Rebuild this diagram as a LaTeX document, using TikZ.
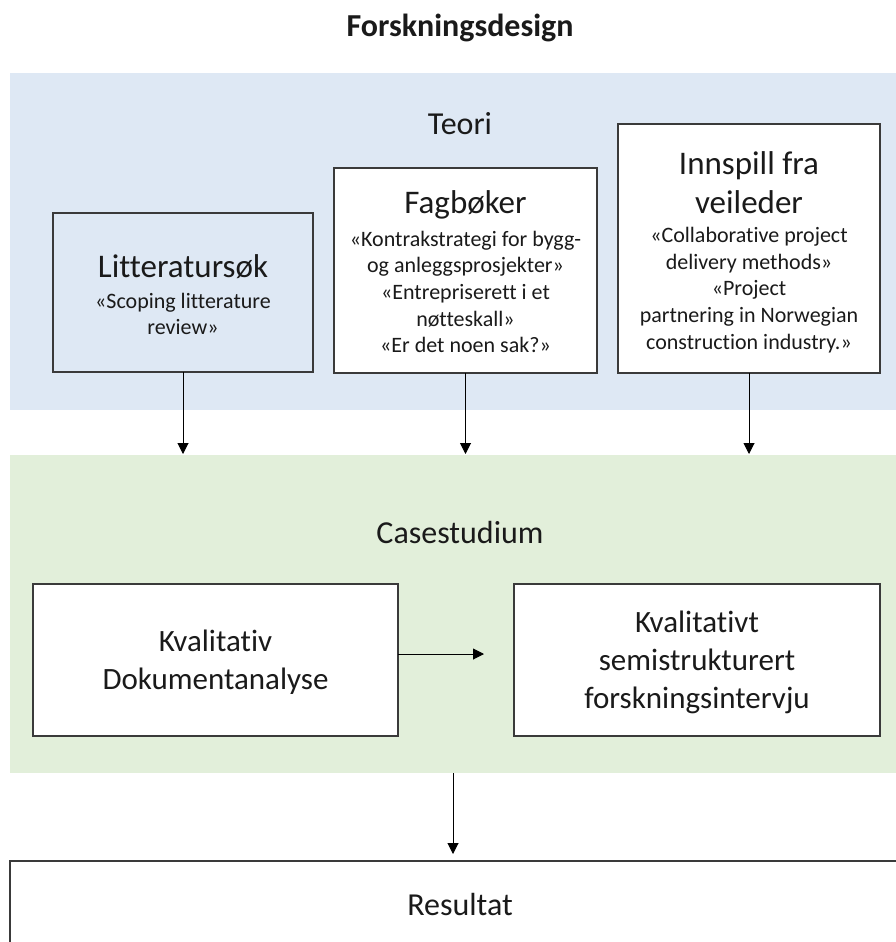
\documentclass[tikz,border=0pt]{standalone}
\usepackage{fontspec}
\setmainfont[Ligatures={NoCommon}]{Carlito}
\usetikzlibrary{arrows.meta}
\definecolor{teoriblue}{HTML}{DEE8F4}
\definecolor{casegreen}{HTML}{E2EFDA}
\definecolor{edge}{HTML}{3A3A3A}
\definecolor{ink}{HTML}{1A1A1A}

\begin{document}
\begin{tikzpicture}[x=1pt,y=-1pt,
  band/.style={draw=none,inner sep=0pt,outer sep=0pt},
  box/.style={draw=edge,line width=1.3pt,inner sep=0pt,outer sep=0pt,fill=white},
  head/.style={font=\fontsize{33}{39}\selectfont,text=ink,align=center,inner sep=0pt},
  sub/.style={font=\fontsize{22}{26.7}\selectfont,text=ink,align=center,inner sep=0pt},
  big/.style={font=\fontsize{31}{38}\selectfont,text=ink,align=center,inner sep=0pt},
  flow/.style={draw=black,line width=1pt,-{Triangle[width=11pt,length=11pt]}}
]
\useasboundingbox (0,0) rectangle (896,942);
\clip (0,0) rectangle (896,942);

% title
\node[font=\fontsize{32}{38}\selectfont\bfseries,text=ink,anchor=base,inner sep=0pt] (title) at (460,37) {Forskningsdesign};

% background bands
\node[band,fill=teoriblue,minimum width=886pt,minimum height=337pt] (teori) at (453,241.5) {};
\node[band,fill=casegreen,minimum width=886pt,minimum height=318pt] (case) at (453,614) {};
\node[font=\fontsize{32}{38}\selectfont,text=ink,anchor=base,inner sep=0pt] (teorilbl) at (460,134) {Teori};
\node[font=\fontsize{32}{38}\selectfont,text=ink,anchor=base,inner sep=0pt] (caselbl) at (460,543) {Casestudium};

% theory sources
\node[box,fill=teoriblue,minimum width=260pt,minimum height=159pt] (lit) at (183,292.5) {};
\node[box,minimum width=263pt,minimum height=205pt] (fag) at (465.5,270.5) {};
\node[box,minimum width=262pt,minimum height=249pt] (inn) at (749,248.5) {};

\node[head] (lithead) at (183,267) {Litteratursøk};
\node[sub] (litsub) at (183,314) {«Scoping litterature\\review»};

\node[head] (faghead) at (465.5,205) {Fagbøker};
\node[sub] (fagsub) at (465.5,292) {«Kontrakstrategi for bygg-\\og anleggsprosjekter»\\«Entrepriserett i et\\nøtteskall»\\«Er det noen sak?»};

\node[head] (innhead) at (749,182.5) {Innspill fra\\veileder};
\node[sub] (innsub) at (749,290) {«Collaborative project\\delivery methods»\\«Project\\partnering in Norwegian\\construction industry.»};

% case study methods
\node[box,minimum width=365pt,minimum height=152pt] (doc) at (215.5,660) {};
\node[box,minimum width=366pt,minimum height=152pt] (int) at (697,660) {};
\node[big] (doclbl) at (215.5,662) {Kvalitativ\\Dokumentanalyse};
\node[big] (intlbl) at (697,662) {Kvalitativt\\semistrukturert\\forskningsintervju};

% result
\node[box,minimum width=900pt,minimum height=200pt] (res) at (460,961) {};
\node[font=\fontsize{32}{38}\selectfont,text=ink,anchor=base,inner sep=0pt] (reslbl) at (460,915) {Resultat};

% connector end points
\coordinate (litin) at (183,454);
\coordinate (fagin) at (465.5,454);
\coordinate (innin) at (749,454);
\coordinate (docout) at (398,654);
\coordinate (intin) at (484,654);
\coordinate (caseout) at (453,773);
\coordinate (resin) at (453,854);

\draw[flow] (lit.south) -- (litin);
\draw[flow] (fag.south) -- (fagin);
\draw[flow] (inn.south) -- (innin);
\draw[flow] (docout) -- (intin);
\draw[flow] (caseout) -- (resin);
\end{tikzpicture}
\end{document}
